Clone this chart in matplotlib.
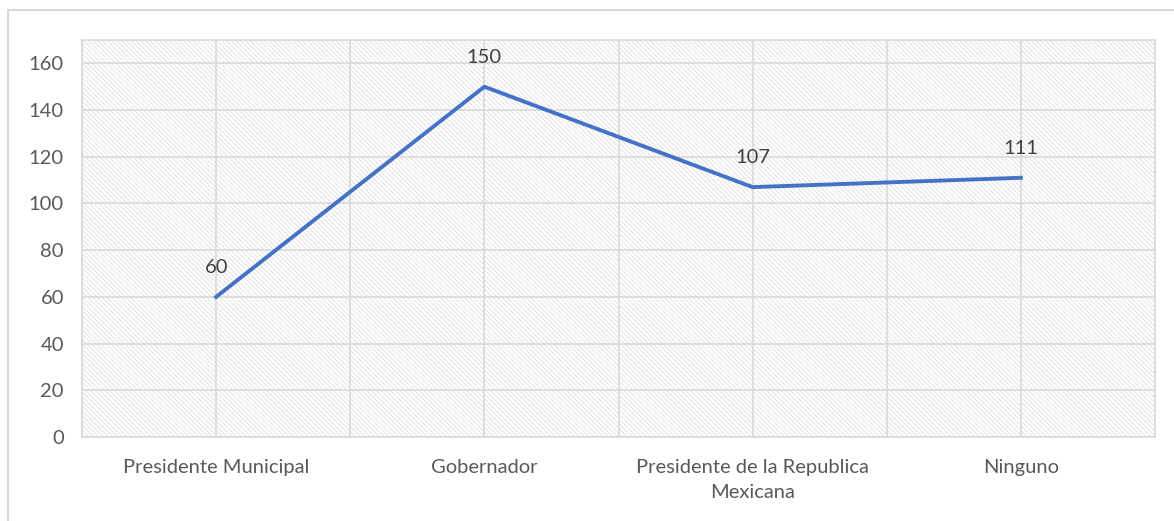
import matplotlib.pyplot as plt
import matplotlib.patches as patches
import numpy as np

categories = ["Presidente Municipal", "Gobernador", "Presidente de la Republica\nMexicana", "Ninguno"]
values = [60, 150, 107, 111]
y_ticks = [0, 20, 40, 60, 80, 100, 120, 140, 160]

plt.rcParams['font.family'] = ['Lato', 'DejaVu Sans']
plt.rcParams['hatch.linewidth'] = 0.55

text_color = '#595959'
grid_color = '#d9d9d9'

fig = plt.figure(figsize=(11.74, 5.21), dpi=100)
# outer chart border
fig.patches.append(patches.Rectangle((8/1174, -0.05), 1.1, 1 - 10/521 + 0.05,
                                     transform=fig.transFigure, fill=False,
                                     edgecolor='#d9d9d9', linewidth=1.5))

ax = fig.add_axes([82/1174, 1 - 437/521, (1155 - 82)/1174, (437 - 40)/521])
x = np.arange(len(categories))

ax.set_xlim(-0.5, 3.5)
ax.set_ylim(0, 170)

# hatched plot area
ax.add_patch(patches.Rectangle((0, 0), 1, 1, transform=ax.transAxes,
                               facecolor='white', edgecolor='#dadada', linewidth=0,
                               hatch='\\' * 7, zorder=0))

ax.set_yticks(y_ticks)
ax.set_xticks(x)
ax.set_xticklabels(categories, linespacing=1.55)
ax.set_xticks(np.arange(-0.5, 3.6, 1.0), minor=True)
ax.grid(axis='y', color=grid_color, linewidth=1.2, zorder=1)
ax.grid(axis='x', which='both', color=grid_color, linewidth=1.2, zorder=1)
ax.set_axisbelow(True)

ax.tick_params(axis='both', which='both', length=0, colors=text_color, labelsize=14.5)
ax.tick_params(axis='y', pad=13)
ax.tick_params(axis='x', pad=16)

for s in ax.spines.values():
    s.set_color(grid_color)
    s.set_linewidth(1.2)

ax.plot(x, values, color='#4472C4', linewidth=2.8, zorder=3, solid_joinstyle='round')

for xi, v in zip(x, values):
    ax.annotate(str(v), (xi, v), xytext=(0, 21), textcoords='offset points',
                ha='center', va='center', color='#404040', fontsize=14.5)

fig.savefig('out.png', dpi=100)
